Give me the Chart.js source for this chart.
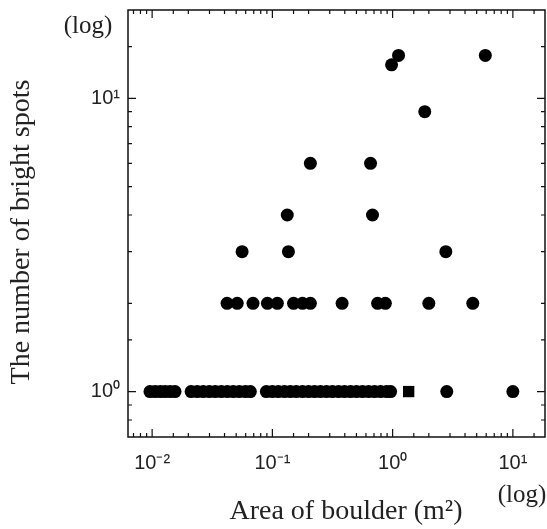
<!DOCTYPE html>
<html>
<head>
<meta charset="utf-8">
<script src="https://cdn.jsdelivr.net/npm/chart.js@4.4.1/dist/chart.umd.min.js"></script>
<style>
  html, body { margin: 0; padding: 0; background: #fff; }
  #wrap { width: 547px; height: 529px; }
</style>
</head>
<body>
<div id="wrap"><canvas id="spotChart" width="547" height="529"></canvas></div>
<script>
// counts of bright spots (y) and the boulder areas (m2) seen at each count
var areasAt1 = [0.0096, 0.0106, 0.0117, 0.0128, 0.0141, 0.0155,
  0.0211, 0.0237, 0.0266, 0.0299, 0.0335, 0.0376, 0.0422, 0.0473, 0.0531, 0.0596, 0.0656,
  0.0891, 0.1, 0.112, 0.126, 0.141, 0.158, 0.178, 0.2, 0.224, 0.251, 0.282, 0.316,
  0.355, 0.398, 0.447, 0.501, 0.562, 0.631, 0.708, 0.794, 0.891, 0.962,
  2.82, 10];
var areasAt1Square = [1.36];
var areasAt2 = [0.042, 0.051, 0.069, 0.091, 0.11, 0.15, 0.178, 0.207, 0.38, 0.75, 0.87, 2.0, 4.64];
var areasAt3 = [0.056, 0.136, 2.77];
var areasAt4 = [0.133, 0.68];
var areasAt6 = [0.207, 0.655];
var areasAt9 = [1.85];
var areasAt13 = [0.98];
var areasAt14 = [1.12, 5.9];

var xRange = [0.0063, 18.5];
var yRange = [0.7, 20];
var supDigits = { '-': '\u207B', '0': '\u2070', '1': '\u00B9', '2': '\u00B2', '3': '\u00B3' };

function toPoints(areas, count) {
  return areas.map(function (a) { return { x: a, y: count }; });
}

var dotPoints = [].concat(
  toPoints(areasAt1, 1), toPoints(areasAt2, 2), toPoints(areasAt3, 3),
  toPoints(areasAt4, 4), toPoints(areasAt6, 6), toPoints(areasAt9, 9),
  toPoints(areasAt13, 13), toPoints(areasAt14, 14)
);

function isDecade(v) {
  var e = Math.log10(v);
  return Math.abs(e - Math.round(e)) < 1e-6;
}

function decadeLabel(v) {
  if (!isDecade(v)) return '';
  var e = String(Math.round(Math.log10(v)));
  return '10' + e.split('').map(function (c) { return supDigits[c]; }).join('');
}

// frame, inward ticks on all four sides, and the hand placed texts
var frameAndText = {
  id: 'frameAndText',
  afterDatasetsDraw: function (chart) {
    var ctx = chart.ctx;
    var a = chart.chartArea;
    var xs = chart.scales.x, ys = chart.scales.y;
    ctx.save();
    ctx.strokeStyle = '#111';
    ctx.lineWidth = 1.5;
    ctx.strokeRect(a.left, a.top, a.right - a.left, a.bottom - a.top);

    ctx.lineWidth = 1.2;
    ctx.beginPath();
    xs.ticks.forEach(function (t) {
      var px = xs.getPixelForValue(t.value);
      if (px < a.left + 2 || px > a.right - 2) return;
      var len = isDecade(t.value) ? 8 : 4;
      ctx.moveTo(px, a.bottom); ctx.lineTo(px, a.bottom - len);
      ctx.moveTo(px, a.top); ctx.lineTo(px, a.top + len);
    });
    ys.ticks.forEach(function (t) {
      var py = ys.getPixelForValue(t.value);
      if (py < a.top + 2 || py > a.bottom - 2) return;
      var len = isDecade(t.value) ? 8 : 4;
      ctx.moveTo(a.left, py); ctx.lineTo(a.left + len, py);
      ctx.moveTo(a.right, py); ctx.lineTo(a.right - len, py);
    });
    ctx.stroke();

    ctx.fillStyle = '#222';
    ctx.font = '28px "Liberation Serif"';
    ctx.textAlign = 'center';
    ctx.textBaseline = 'middle';
    ctx.fillText('Area of boulder (m\u00B2)', 346, 512);
    ctx.font = '25px "Liberation Serif"';
    ctx.fillText('(log)', 522, 495);
    ctx.fillText('(log)', 88, 26);

    ctx.translate(22, 232);
    ctx.rotate(-Math.PI / 2);
    ctx.font = '28px "Liberation Serif"';
    ctx.fillText('The number of bright spots', 0, 0);
    ctx.restore();
  }
};

var tickFont = { family: '"Liberation Sans"', size: 20 };

new Chart('spotChart', {
  type: 'scatter',
  data: {
    datasets: [{
      data: dotPoints,
      backgroundColor: '#000',
      borderWidth: 0,
      pointRadius: 6.5,
      pointHoverRadius: 6.5
    }, {
      data: toPoints(areasAt1Square, 1),
      backgroundColor: '#000',
      borderWidth: 0,
      pointStyle: 'rect',
      pointRadius: 8,
      pointHoverRadius: 8
    }]
  },
  options: {
    responsive: false,
    animation: false,
    layout: { autoPadding: false, padding: { top: 10, right: 2, left: 0, bottom: 0 } },
    plugins: {
      legend: { display: false },
      tooltip: { enabled: false }
    },
    scales: {
      x: {
        type: 'logarithmic',
        min: xRange[0],
        max: xRange[1],
        grid: { display: false, drawTicks: false },
        border: { display: false },
        ticks: {
          autoSkip: false,
          maxRotation: 0,
          padding: 14,
          color: '#222',
          font: tickFont,
          callback: function (v) { return decadeLabel(v); }
        },
        afterFit: function (s) {
          s.height = 92;
          s.paddingLeft = 0;
          s.paddingRight = 0;
        }
      },
      y: {
        type: 'logarithmic',
        min: yRange[0],
        max: yRange[1],
        grid: { display: false, drawTicks: false },
        border: { display: false },
        ticks: {
          autoSkip: false,
          padding: 8,
          color: '#222',
          font: tickFont,
          callback: function (v) { return decadeLabel(v); }
        },
        afterFit: function (s) {
          s.width = 128;
          s.paddingTop = 0;
          s.paddingBottom = 0;
        }
      }
    }
  },
  plugins: [frameAndText]
});
</script>
</body>
</html>
